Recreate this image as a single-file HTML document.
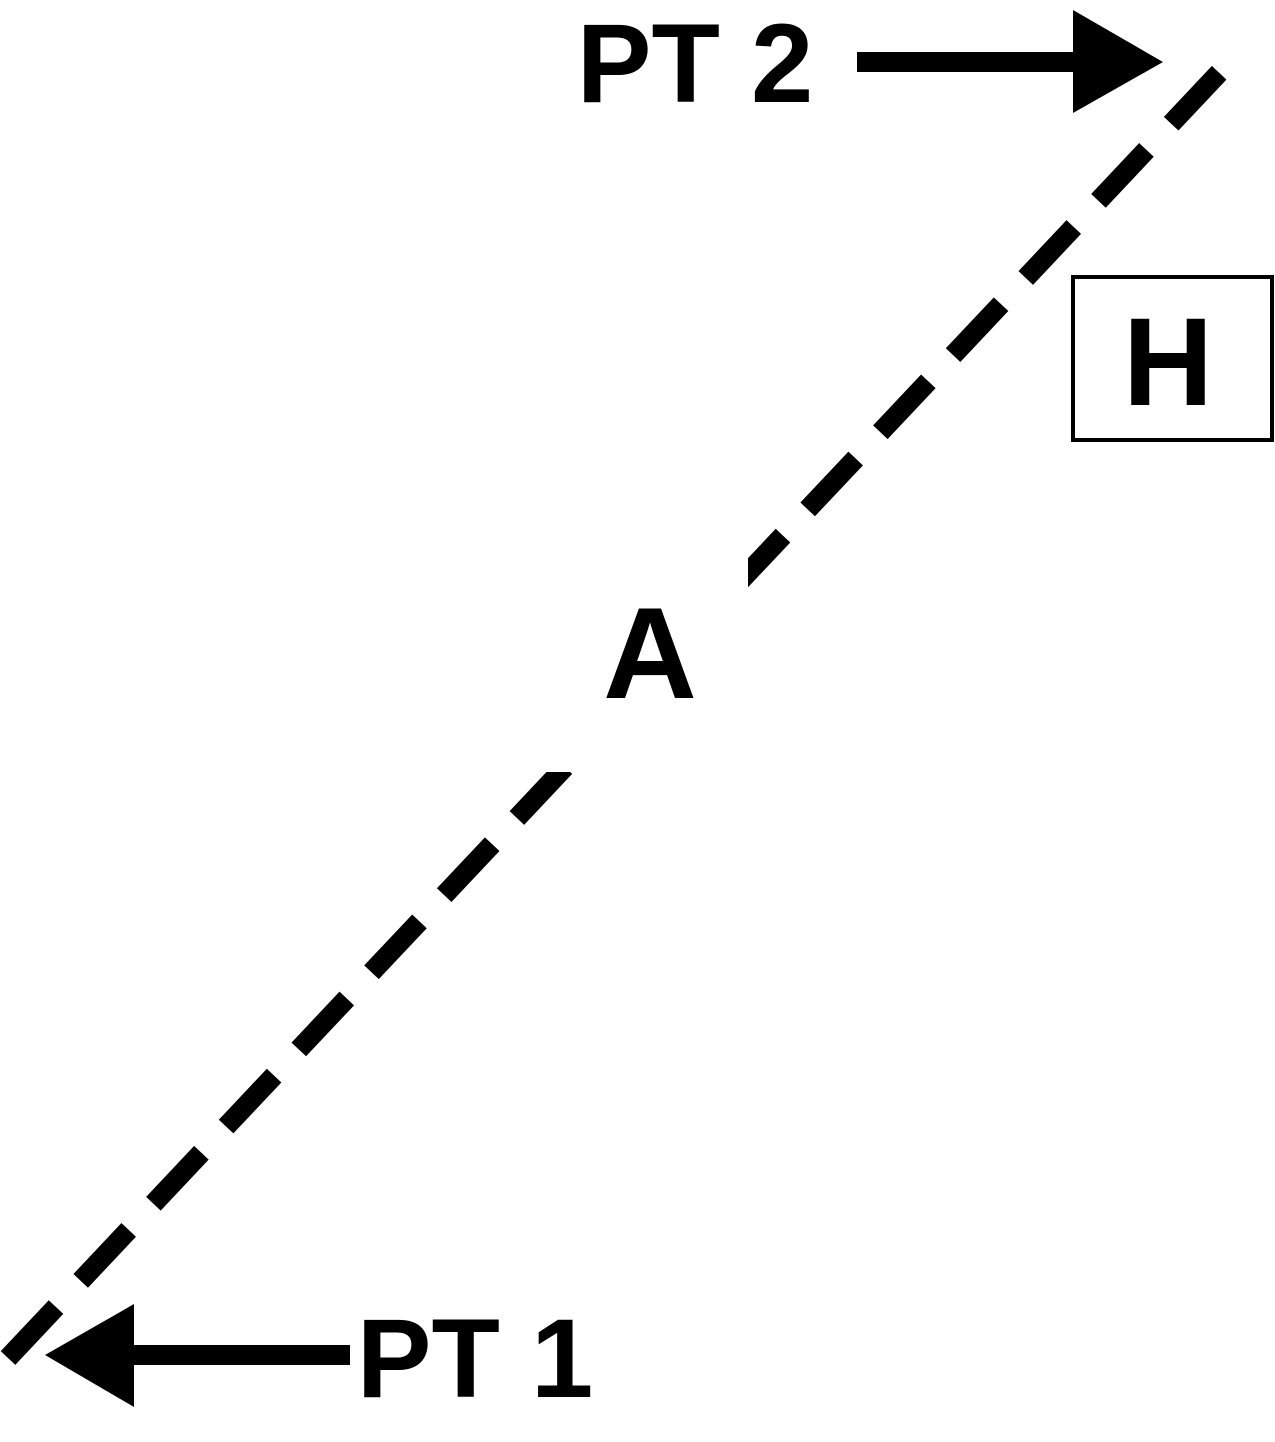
<!DOCTYPE html>
<html>
<head>
<meta charset="utf-8">
<style>
  html,body{margin:0;padding:0;background:#fff;}
  svg{display:block;}
  text{font-family:"Liberation Sans",Arial,sans-serif;font-weight:bold;fill:#000;}
</style>
</head>
<body>
<svg width="1275" height="1442" viewBox="0 0 1275 1442">
  <line x1="8" y1="1358" x2="1234" y2="57" stroke="#000" stroke-width="20" stroke-dasharray="70 36"/>
  <rect x="540" y="548" width="208" height="224" fill="#fff"/>
  <text x="650" y="698" font-size="130" text-anchor="middle">A</text>

  <line x1="857" y1="62" x2="1080" y2="62" stroke="#000" stroke-width="20"/>
  <polygon points="1073,10 1073,113 1163,62" fill="#000"/>
  <text x="695" y="102" font-size="112" text-anchor="middle">PT 2</text>

  <line x1="350" y1="1355" x2="125" y2="1355" stroke="#000" stroke-width="20"/>
  <polygon points="134,1304 134,1407 45,1355" fill="#000"/>
  <text x="475" y="1397" font-size="112" text-anchor="middle">PT 1</text>

  <rect x="1073" y="277" width="199" height="163" fill="none" stroke="#000" stroke-width="4"/>
  <text x="1168" y="405" font-size="125" text-anchor="middle">H</text>
</svg>
</body>
</html>
